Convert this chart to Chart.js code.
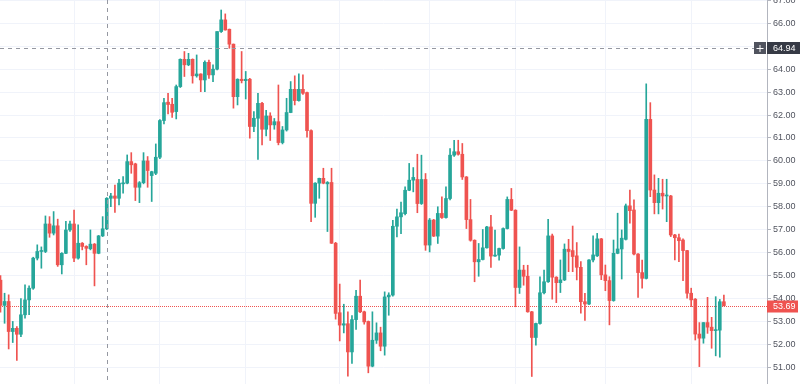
<!DOCTYPE html>
<html><head><meta charset="utf-8">
<script src="https://cdn.jsdelivr.net/npm/chart.js@4/dist/chart.umd.min.js"></script>
<style>html,body{margin:0;padding:0;background:#fff;overflow:hidden}#wrap{width:800px;height:384px;position:relative}</style>
</head><body><div id="wrap"><canvas id="c"></canvas></div>
<script>
const opens = [
54.8,53.7,53.87,52.56,52.7,52.44,53.29,53.94,54.45,55.76,
56.05,56.05,57.25,56.85,57.17,55.47,55.97,56.99,57.25,55.76,
56.41,56.27,56.17,56.37,55.97,56.73,57.04,58.37,58.47,58.37,
59.0,59.03,59.97,59.87,58.85,59.05,60.0,59.36,59.46,60.16,
61.76,62.56,62.47,62.15,63.24,64.43,64.19,64.43,63.71,63.79,
63.53,64.3,63.75,64.0,65.64,66.15,65.74,65.09,62.8,63.56,
63.5,63.56,61.5,61.86,62.51,61.38,61.96,61.57,61.71,60.8,
61.35,62.11,63.12,62.63,63.12,62.98,61.32,58.15,59.03,59.24,
59.0,59.06,56.41,53.38,52.84,52.9,51.67,53.08,54.1,53.42,
53.0,51.05,52.18,52.5,51.92,54.07,54.15,57.15,57.56,57.7,
58.72,59.16,59.19,58.14,59.19,56.33,57.42,56.72,57.71,57.53,
58.36,60.25,60.4,60.29,59.3,57.44,56.54,55.6,55.7,56.21,
57.12,55.85,55.89,56.18,57.05,58.32,57.85,54.48,55.24,54.97,
53.42,52.3,52.91,54.25,54.73,56.73,54.93,54.69,54.81,56.15,
56.09,55.86,55.36,53.86,53.76,55.68,55.86,56.6,55.03,54.78,
53.91,55.97,56.16,56.58,58.04,57.86,55.94,55.13,54.88,61.81,
58.73,58.18,58.59,58.47,58.47,56.77,56.65,56.55,56.09,54.23,
53.97,52.45,52.27,52.95,52.75,52.6,52.62,53.86
];
const highs = [
55.0,54.23,54.16,53.0,52.78,54.0,54.6,54.55,55.8,56.34,
56.25,57.6,57.57,57.79,57.46,56.0,57.36,57.38,57.86,57.21,
56.44,56.3,56.99,56.4,56.75,57.57,58.4,58.59,58.95,59.2,
59.32,60.26,60.36,59.9,59.1,60.36,60.19,59.55,60.74,61.8,
62.73,62.95,62.73,63.31,64.45,64.77,64.69,64.45,64.62,63.8,
64.36,64.4,64.19,65.64,66.58,66.41,65.75,65.1,63.58,64.77,
63.9,63.6,62.15,62.95,62.55,62.2,62.1,61.85,63.31,61.5,
62.73,63.46,63.71,63.8,63.75,63.0,61.35,59.05,59.25,59.68,
59.1,59.68,56.45,54.63,53.75,53.42,53.25,54.36,54.8,53.45,
53.02,53.42,52.94,52.75,54.29,54.25,57.41,57.9,58.2,58.87,
59.89,59.71,60.29,60.25,59.45,57.49,57.45,58.0,58.43,58.87,
60.54,60.9,60.9,60.76,59.32,58.32,56.56,56.4,57.01,57.15,
57.63,56.98,56.2,57.08,58.43,58.8,57.87,56.25,55.45,55.45,
53.44,52.93,54.94,55.24,57.45,56.81,54.95,55.68,56.38,56.58,
57.16,56.44,55.61,54.23,55.7,56.73,56.84,56.62,55.46,54.95,
56.55,57.72,56.99,58.12,58.73,58.3,55.96,55.68,63.36,62.54,
59.39,59.24,59.2,59.2,58.5,56.8,56.81,56.6,56.1,54.45,
54.0,52.95,52.95,54.05,53.18,54.08,53.96,54.15
];
const lows = [
53.4,52.92,51.8,52.08,51.3,52.34,53.14,53.3,54.4,55.68,
55.32,56.0,56.67,56.77,55.4,55.07,55.95,56.92,55.61,55.71,
56.12,55.47,56.12,54.55,55.95,56.7,57.0,58.0,57.75,58.08,
58.59,59.0,59.46,58.27,58.18,59.0,58.85,58.23,59.4,60.1,
61.61,62.05,61.9,61.83,63.2,63.68,64.15,63.39,63.65,63.02,
63.02,63.6,63.46,63.97,65.6,65.7,64.91,62.3,62.44,63.4,
62.7,60.99,61.28,60.07,60.7,61.09,60.89,61.38,60.7,60.74,
61.3,62.1,62.44,62.6,62.9,61.03,57.35,57.54,58.37,59.0,
56.92,56.4,53.1,52.15,52.5,50.61,51.17,52.65,53.38,52.88,
50.76,51.02,52.04,51.72,51.53,53.27,54.1,56.69,56.83,57.65,
58.7,58.65,57.74,58.1,56.1,56.03,56.7,56.4,57.49,57.5,
58.3,60.2,60.25,59.19,57.05,56.5,54.73,54.97,55.68,56.2,
55.35,55.83,55.67,56.15,57.03,57.83,53.64,54.22,54.58,53.4,
50.6,51.97,52.88,54.2,54.7,53.97,53.82,54.26,54.78,55.17,
55.17,54.81,53.36,53.04,53.73,55.6,55.83,54.82,54.34,52.85,
53.88,55.95,54.85,56.55,57.28,55.9,54.05,54.45,54.85,58.44,
57.69,57.69,57.9,57.35,56.7,55.68,55.61,54.78,54.01,53.65,
52.19,51.03,52.05,52.48,51.83,51.5,51.44,53.68
];
const closes = [
53.7,53.87,52.56,52.7,52.44,53.29,53.94,54.45,55.76,56.05,
56.08,57.25,56.85,57.17,55.47,55.97,56.99,57.25,55.76,56.41,
56.27,56.19,56.37,55.97,56.73,57.04,58.37,58.47,58.37,59.03,
59.03,59.97,59.83,58.85,59.05,60.0,59.58,59.53,60.16,61.76,
62.54,62.46,62.12,63.24,64.43,64.19,64.43,63.71,63.79,63.53,
64.3,63.75,64.0,65.64,66.15,65.71,65.09,62.8,63.56,63.5,
63.56,61.5,61.86,62.51,61.38,61.96,61.57,61.71,60.8,61.35,
62.11,63.12,62.63,63.12,62.95,61.32,58.15,59.03,59.24,59.03,
59.06,56.41,53.35,52.84,52.9,51.67,53.08,54.1,53.42,52.98,
51.05,52.18,52.5,51.92,54.07,54.15,57.15,57.56,57.74,58.72,
59.16,59.28,58.14,59.19,56.33,57.42,56.72,57.71,57.53,58.36,
60.25,60.4,60.29,59.3,57.44,56.54,55.6,55.7,56.21,57.12,
55.85,55.89,56.18,57.05,58.32,57.85,54.48,55.24,54.97,53.42,
52.3,52.91,54.25,54.73,56.73,54.93,54.69,54.81,56.15,56.05,
55.83,55.36,53.86,53.76,55.68,55.9,56.6,55.03,54.78,53.91,
55.97,56.16,56.63,58.04,57.83,55.94,55.13,54.88,61.81,58.73,
58.18,58.59,58.47,58.5,56.77,56.65,56.52,56.09,54.23,53.94,
52.45,52.27,52.95,52.75,52.6,52.62,53.86,53.69
];
const priceTicks = [51,52,53,54,55,56,57,58,59,60,61,62,63,64,65,66,67];
const monthGridIdx = [18,39,60,83,105,126,148,169];
const lastPrice = 53.69;
const crosshairPrice = 64.94;
const crosshairIdx = 26;

const UP = '#26a69a', DOWN = '#ef5350';
const idx = closes.map((_, i) => i);
const colors = idx.map(i => closes[i] >= opens[i] ? UP : DOWN);
const bodies = idx.map(i => ({x: i, y: [opens[i], closes[i]]}));
const wicks = idx.map(i => ({x: i, y: [lows[i], highs[i]]}));
const FONT = 'Liberation Sans, Arial, sans-serif';

const overlay = {
  id: 'overlay',
  beforeDatasetsDraw(chart) {
    const {ctx, chartArea: a, scales: {y}} = chart;
    const py = Math.round(y.getPixelForValue(lastPrice)) + 0.5;
    ctx.save();
    ctx.strokeStyle = DOWN; ctx.lineWidth = 1; ctx.setLineDash([1, 1]);
    ctx.beginPath(); ctx.moveTo(a.left, py); ctx.lineTo(a.right, py); ctx.stroke();
    ctx.restore();
  },
  afterDraw(chart) {
    const {ctx, chartArea: a, scales: {x, y}} = chart;
    const W = chart.width;
    ctx.save();
    ctx.strokeStyle = '#9598a1'; ctx.lineWidth = 1; ctx.setLineDash([4, 4]);
    const cx = Math.round(x.getPixelForValue(crosshairIdx)) + 0.5;
    ctx.beginPath(); ctx.moveTo(cx, a.top); ctx.lineTo(cx, a.bottom); ctx.stroke();
    const cy = Math.round(y.getPixelForValue(crosshairPrice)) + 0.5;
    ctx.beginPath(); ctx.moveTo(a.left, cy); ctx.lineTo(a.right - 13, cy); ctx.stroke();
    ctx.setLineDash([]);
    ctx.fillStyle = '#50535e';
    ctx.fillRect(a.right - 13, cy - 6.5, 12, 12);
    ctx.strokeStyle = '#ffffff';
    ctx.beginPath();
    ctx.moveTo(a.right - 10.5, cy); ctx.lineTo(a.right - 3.5, cy);
    ctx.moveTo(a.right - 7, cy - 3.5); ctx.lineTo(a.right - 7, cy + 3.5);
    ctx.stroke();
    ctx.font = '9px ' + FONT;
    ctx.textBaseline = 'middle'; ctx.textAlign = 'left';
    ctx.fillStyle = '#363a45';
    ctx.fillRect(a.right, cy - 6.5, W - a.right, 12);
    ctx.fillStyle = '#ffffff';
    ctx.fillText(crosshairPrice.toFixed(2), a.right + 6, cy);
    const py = Math.round(y.getPixelForValue(lastPrice)) + 0.5;
    ctx.fillStyle = DOWN;
    ctx.fillRect(a.right, py - 6, W - a.right - 2, 12);
    ctx.fillStyle = '#ffffff';
    ctx.fillText(lastPrice.toFixed(2), a.right + 6, py);
    ctx.restore();
  }
};

new Chart(document.getElementById('c'), {
  type: 'bar',
  data: {
    datasets: [
      {data: bodies, backgroundColor: colors, barThickness: 3, grouped: false, minBarLength: 1, order: 0},
      {data: wicks, backgroundColor: colors, barThickness: 1, grouped: false, order: 1}
    ]
  },
  options: {
    responsive: true, maintainAspectRatio: false, animation: false, events: [],
    layout: {padding: 0},
    plugins: {legend: {display: false}, tooltip: {enabled: false}},
    scales: {
      x: {
        type: 'linear', min: -0.12, max: 187.55, offset: false,
        ticks: {display: false},
        grid: {color: '#f0f3fa', drawTicks: false, offset: false},
        border: {display: false},
        afterBuildTicks: s => { s.ticks = monthGridIdx.map(v => ({value: v})); },
        afterFit: s => { s.height = 0; s.paddingLeft = 0; s.paddingRight = 0; }
      },
      y: {
        position: 'right', min: 50.272, max: 67.016,
        ticks: {color: '#50535e', font: {size: 9, family: FONT}, padding: 2,
                callback: v => Number(v).toFixed(2)},
        grid: {color: '#f0f3fa', tickColor: '#b2b5be', tickLength: 4, offset: false},
        border: {display: true, color: '#b2b5be'},
        afterBuildTicks: s => { s.ticks = priceTicks.map(v => ({value: v})); },
        afterFit: s => { s.width = 33; s.paddingTop = 0; s.paddingBottom = 0; }
      }
    }
  },
  plugins: [overlay]
});
</script>
</body></html>
